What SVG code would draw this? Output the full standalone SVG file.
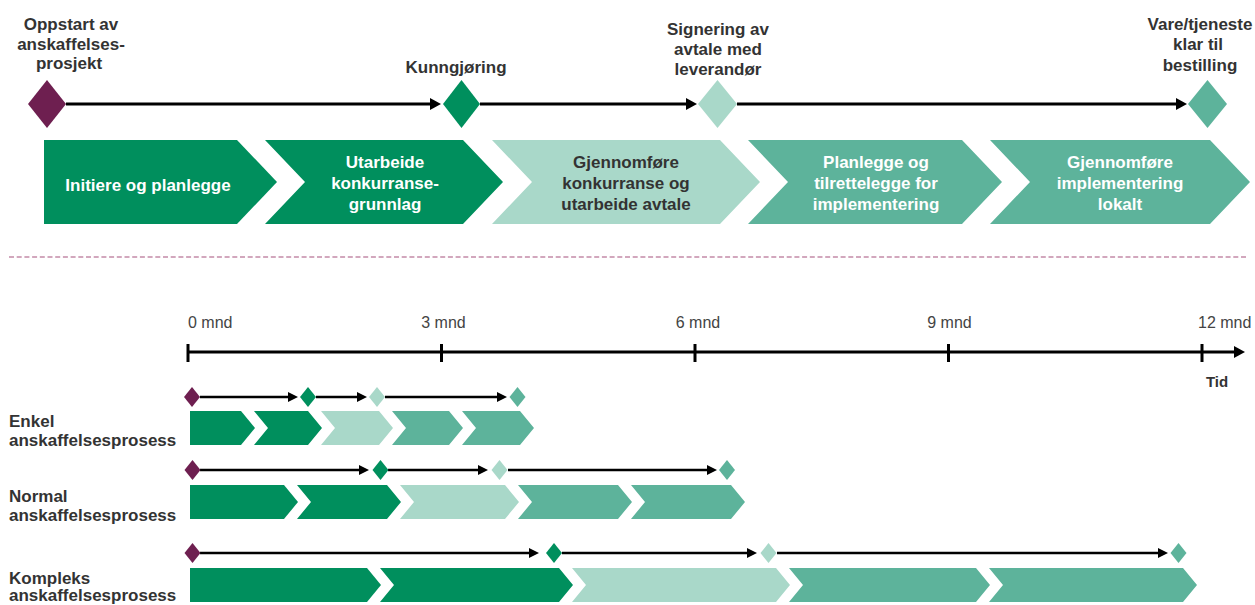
<svg xmlns="http://www.w3.org/2000/svg" width="1255" height="605" viewBox="0 0 1255 605">
<style>
text{font-family:"Liberation Sans",Arial,sans-serif}
.lb{font-size:17px;font-weight:bold;fill:#333;text-anchor:middle}
.cw{font-size:17px;font-weight:bold;fill:#fff;text-anchor:middle}
.cd{font-size:17px;font-weight:bold;fill:#333;text-anchor:middle}
.rl{font-size:17px;font-weight:bold;fill:#333}
.mn{font-size:16px;fill:#444}
.dk{fill:#008f5d}
.lt{fill:#a9d8c9}
.md{fill:#5db39b}
.pu{fill:#6e1f50}
.ln{stroke:#000;stroke-width:3;fill:none}
.sl{stroke:#000;stroke-width:2.6;fill:none}
</style>
<defs>
<marker id="ah" markerUnits="userSpaceOnUse" markerWidth="12" markerHeight="12" refX="2" refY="6" orient="auto" viewBox="0 0 12 12"><path d="M0,0 L11,6 L0,12 z" fill="#000"/></marker>
<marker id="as" markerUnits="userSpaceOnUse" markerWidth="11" markerHeight="10" refX="2" refY="5" orient="auto" viewBox="0 0 11 10"><path d="M0,0 L10,5 L0,10 z" fill="#000"/></marker>
</defs>

<g id="connectors">
<line class="ln" x1="66" y1="104" x2="432" y2="104" marker-end="url(#ah)"/>
<line class="ln" x1="480" y1="104" x2="688" y2="104" marker-end="url(#ah)"/>
<line class="ln" x1="737" y1="104" x2="1178" y2="104" marker-end="url(#ah)"/>
<line class="sl" x1="200" y1="397" x2="290" y2="397" marker-end="url(#as)"/>
<line class="sl" x1="316" y1="397" x2="359" y2="397" marker-end="url(#as)"/>
<line class="sl" x1="385" y1="397" x2="499" y2="397" marker-end="url(#as)"/>
<line class="sl" x1="200" y1="470" x2="361" y2="470" marker-end="url(#as)"/>
<line class="sl" x1="388" y1="470" x2="480" y2="470" marker-end="url(#as)"/>
<line class="sl" x1="508" y1="470" x2="709" y2="470" marker-end="url(#as)"/>
<line class="sl" x1="200" y1="553" x2="531" y2="553" marker-end="url(#as)"/>
<line class="sl" x1="562" y1="553" x2="749" y2="553" marker-end="url(#as)"/>
<line class="sl" x1="777" y1="553" x2="1160" y2="553" marker-end="url(#as)"/>
</g>

<g id="top-labels">
<text class="lb" x="71" y="30">Oppstart av</text>
<text class="lb" x="71" y="49.5">anskaffelses-</text>
<text class="lb" x="69" y="69">prosjekt</text>
<text class="lb" x="456" y="73">Kunngjøring</text>
<text class="lb" x="718" y="35">Signering av</text>
<text class="lb" x="718" y="55">avtale med</text>
<text class="lb" x="718" y="75">leverandør</text>
<text class="lb" x="1200" y="30">Vare/tjeneste</text>
<text class="lb" x="1198" y="50">klar til</text>
<text class="lb" x="1200" y="70.5">bestilling</text>
</g>

<g id="milestone-start"><polygon class="pu" points="47,80 66,104 47,128 28,104"/></g>
<g id="milestone-kunngjoring"><polygon class="dk" points="461.5,80 480,104 461.5,128 443,104"/></g>
<g id="milestone-signering"><polygon class="lt" points="717.5,80 737,104 717.5,128 698,104"/></g>
<g id="milestone-klar"><polygon class="md" points="1207.5,80 1227,104 1207.5,128 1188,104"/></g>

<g id="phase-1">
<polygon class="dk" points="44,140 237,140 277,182 237,224 44,224"/>
<text class="cw" x="148" y="191">Initiere og planlegge</text>
</g>
<g id="phase-2">
<polygon class="dk" points="265,140 463,140 503,182 463,224 265,224 305,182"/>
<text class="cw" x="385" y="168">Utarbeide</text>
<text class="cw" x="385" y="189">konkurranse-</text>
<text class="cw" x="385" y="209.5">grunnlag</text>
</g>
<g id="phase-3">
<polygon class="lt" points="492,140 720,140 760,182 720,224 492,224 532,182"/>
<text class="cd" x="626" y="168">Gjennomføre</text>
<text class="cd" x="626" y="189">konkurranse og</text>
<text class="cd" x="626" y="209.5">utarbeide avtale</text>
</g>
<g id="phase-4">
<polygon class="md" points="748,140 962,140 1002,182 962,224 748,224 788,182"/>
<text class="cw" x="876" y="168">Planlegge og</text>
<text class="cw" x="876" y="189">tilrettelegge for</text>
<text class="cw" x="876" y="209.5">implementering</text>
</g>
<g id="phase-5">
<polygon class="md" points="990,140 1210,140 1250,182 1210,224 990,224 1030,182"/>
<text class="cw" x="1120" y="168">Gjennomføre</text>
<text class="cw" x="1120" y="189">implementering</text>
<text class="cw" x="1120" y="209.5">lokalt</text>
</g>

<line id="separator" x1="9" y1="257" x2="1246" y2="257" stroke="#c48aa8" stroke-width="1.3" stroke-dasharray="5,2.7"/>

<g id="time-axis">
<line class="ln" x1="188" y1="352" x2="1236" y2="352" marker-end="url(#ah)"/>
<g stroke="#000" stroke-width="3">
<line x1="188" y1="344" x2="188" y2="362"/>
<line x1="441.5" y1="344" x2="441.5" y2="362"/>
<line x1="695" y1="344" x2="695" y2="362"/>
<line x1="948.5" y1="344" x2="948.5" y2="362"/>
<line x1="1202" y1="344" x2="1202" y2="362"/>
</g>
<text class="mn" x="188" y="328">0 mnd</text>
<text class="mn" x="443.5" y="328" text-anchor="middle">3 mnd</text>
<text class="mn" x="698" y="328" text-anchor="middle">6 mnd</text>
<text class="mn" x="949.5" y="328" text-anchor="middle">9 mnd</text>
<text class="mn" x="1198" y="328">12 mnd</text>
<text x="1217" y="387" font-size="15" font-weight="bold" fill="#333" text-anchor="middle">Tid</text>
</g>

<g id="row-enkel">
<text class="rl" x="9" y="427">Enkel</text>
<text class="rl" x="9" y="445.5">anskaffelsesprosess</text>
<polygon class="pu" points="192,387 200,397 192,407 184,397"/>
<polygon class="dk" points="308,387 316,397 308,407 300,397"/>
<polygon class="lt" points="377,387 385,397 377,407 369,397"/>
<polygon class="md" points="517.5,387 525.5,397 517.5,407 509.5,397"/>
<polygon class="dk" points="190,411 241,411 255,428 241,445 190,445"/>
<polygon class="dk" points="254,411 308,411 322,428 308,445 254,445 268,428"/>
<polygon class="lt" points="321,411 379,411 393,428 379,445 321,445 335,428"/>
<polygon class="md" points="392,411 449,411 463,428 449,445 392,445 406,428"/>
<polygon class="md" points="462,411 520,411 534,428 520,445 462,445 476,428"/>
</g>

<g id="row-normal">
<text class="rl" x="9" y="502">Normal</text>
<text class="rl" x="9" y="520.5">anskaffelsesprosess</text>
<polygon class="pu" points="192.5,460 200.5,470 192.5,480 184.5,470"/>
<polygon class="dk" points="380.5,460 388.5,470 380.5,480 372.5,470"/>
<polygon class="lt" points="499.5,460 507.5,470 499.5,480 491.5,470"/>
<polygon class="md" points="727,460 735,470 727,480 719,470"/>
<polygon class="dk" points="190,485 284,485 298,502 284,519 190,519"/>
<polygon class="dk" points="297,485 387,485 401,502 387,519 297,519 311,502"/>
<polygon class="lt" points="400,485 505,485 519,502 505,519 400,519 414,502"/>
<polygon class="md" points="518,485 618,485 632,502 618,519 518,519 532,502"/>
<polygon class="md" points="631,485 731,485 745,502 731,519 631,519 645,502"/>
</g>

<g id="row-kompleks">
<text class="rl" x="9" y="584">Kompleks</text>
<text class="rl" x="9" y="601">anskaffelsesprosess</text>
<polygon class="pu" points="192.5,543 200.5,553 192.5,563 184.5,553"/>
<polygon class="dk" points="554,543 562,553 554,563 546,553"/>
<polygon class="lt" points="768.5,543 776.5,553 768.5,563 760.5,553"/>
<polygon class="md" points="1178.5,543 1186.5,553 1178.5,563 1170.5,553"/>
<polygon class="dk" points="190,568 367,568 381,585 367,602 190,602"/>
<polygon class="dk" points="380,568 559,568 573,585 559,602 380,602 394,585"/>
<polygon class="lt" points="572,568 776,568 790,585 776,602 572,602 586,585"/>
<polygon class="md" points="789,568 976,568 990,585 976,602 789,602 803,585"/>
<polygon class="md" points="989,568 1183,568 1197,585 1183,602 989,602 1003,585"/>
</g>
</svg>
